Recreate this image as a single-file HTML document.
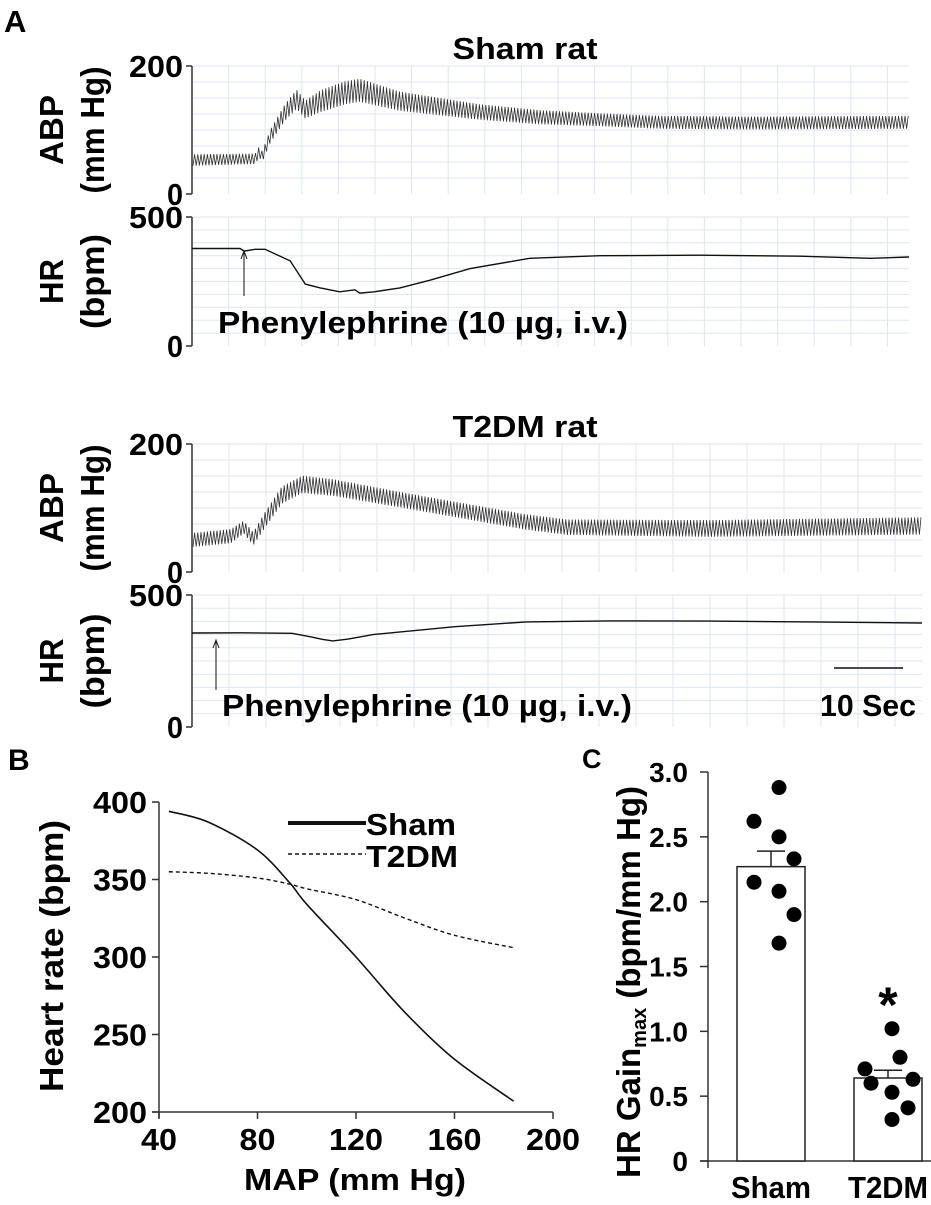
<!DOCTYPE html>
<html><head><meta charset="utf-8"><style>
html,body{margin:0;padding:0;background:#fff;}
svg{display:block;font-family:"Liberation Sans",Arial,sans-serif;}
.b{font-weight:bold;}
</style></head><body>
<svg id="fig" width="931" height="1205" viewBox="0 0 931 1205" xmlns="http://www.w3.org/2000/svg">
<g id="gA"></g>
<g id="gB"></g>
<g id="gC"></g>
</svg>
<script>
// ---- Panel A data (time in arbitrary units 0..100) ----
const shamAbpT = [0, 8.8, 9.4, 9.8, 10.9, 13, 14.6, 15.8, 17.9, 21.3, 23.4, 29, 40.2, 48.5, 56.9, 65.3, 77.8, 100];
const shamAbpMean = [53, 55, 66, 58, 90, 128, 148, 132, 145, 158, 162, 145, 128, 120, 116, 112, 111, 112];
const shamAbpAmp = [18, 16, 18, 16, 20, 26, 30, 28, 34, 36, 36, 30, 24, 22, 20, 20, 20, 20];
const shamHrT = [0, 6.7, 7.3, 8.8, 10.2, 13.7, 15.8, 17.9, 20.6, 22.7, 23.4, 25.4, 29, 33.2, 38.8, 47.1, 56.9, 70.8, 84.8, 94.6, 100];
const shamHr = [378, 378, 368, 375, 375, 330, 240, 225, 210, 218, 205, 210, 225, 255, 300, 340, 350, 352, 348, 340, 345];
const t2AbpT = [0, 5.3, 7.1, 8.4, 9.8, 12.3, 15.1, 19.3, 29, 37.4, 45.8, 51.4, 70.9, 100];
const t2AbpMean = [50, 56, 70, 52, 78, 120, 137, 132, 112, 95, 78, 70, 68, 72];
const t2AbpAmp = [22, 22, 20, 20, 24, 27, 27, 26, 24, 24, 24, 24, 26, 27];
const t2HrT = [0, 6.7, 13.7, 16.5, 17.9, 19.3, 21.4, 24.8, 36, 45.8, 57, 70.9, 84.8, 100];
const t2Hr = [356, 357, 355, 340, 332, 326, 333, 350, 380, 398, 402, 401, 398, 394];
const abpTicks = [0, 200];
const hrTicks = [0, 500];

// ---- Panel B data ----
const mapVals = [44, 60, 80, 93, 100, 120, 140, 160, 184];
const shamCurve = [394, 387, 369, 348, 334, 300, 264, 234, 207];
const t2Curve = [355, 354, 351, 347, 344, 337, 325, 314, 306];
const bXTicks = [40, 80, 120, 160, 200];
const bYTicks = [200, 250, 300, 350, 400];

// ---- Panel C data ----
const groups = ["Sham", "T2DM"];
const means = [2.27, 0.64];
const sems = [0.12, 0.06];
const shamDots = [2.88, 2.62, 2.50, 2.33, 2.15, 2.08, 1.90, 1.68];
const t2Dots = [1.02, 0.80, 0.71, 0.60, 0.63, 0.53, 0.41, 0.32];
const cTicks = ["0", "0.5", "1.0", "1.5", "2.0", "2.5", "3.0"];

const NS = "http://www.w3.org/2000/svg";
function el(parent, tag, attrs, text) {
  const e = document.createElementNS(NS, tag);
  for (const k in attrs) e.setAttribute(k, attrs[k]);
  if (text !== undefined) e.textContent = text;
  parent.appendChild(e);
  return e;
}
function interp(ts, vs, t) {
  if (t <= ts[0]) return vs[0];
  for (let i = 1; i < ts.length; i++) {
    if (t <= ts[i]) { const f = (t - ts[i-1]) / (ts[i] - ts[i-1]); return vs[i-1] + f * (vs[i] - vs[i-1]); }
  }
  return vs[vs.length - 1];
}

// ---------- Panel A ----------
const gA = document.getElementById('gA');
const t0 = el(gA, 'text', {x: 4, y: 32, 'font-size': 31, class: 'b'}, 'A');



function tracePanel(g, cfg) {
  const x0 = 192, x1 = cfg.right;
  const tx = t => x0 + t / 100 * (x1 - x0);
  const ti = el(g, 'text', {x: 525, y: cfg.titleY, 'font-size': 31, class: 'b', 'text-anchor': 'middle', textLength: cfg.titleW, lengthAdjust: 'spacingAndGlyphs'}, cfg.title);
  
  
  const subs = [
    {top: cfg.abpTop, bot: cfg.abpBot, max: 200, ticks: abpTicks, nh: 8, l1: 'ABP', l2: '(mm Hg)', w1: 70, w2: 127, name: 'abp'},
    {top: cfg.hrTop, bot: cfg.hrBot, max: 500, ticks: hrTicks, nh: 10, l1: 'HR', l2: '(bpm)', w1: 45, w2: 95, name: 'hr'}
  ];
  subs.forEach(s => {
    const sy = v => s.bot - v / s.max * (s.bot - s.top);
    const grid = el(g, 'g', {stroke: '#dce6f2', 'stroke-width': 1});
    
    
    for (let i = 1; i <= s.nh; i++) { const y = s.bot - i * (s.bot - s.top) / s.nh; el(grid, 'line', {x1: x0, x2: x1, y1: y, y2: y}); }
    for (let x = x0 + cfg.gridDx; x <= x1; x += cfg.gridDx) el(grid, 'line', {x1: x, x2: x, y1: s.top, y2: s.bot});
    const ax = el(g, 'line', {x1: x0, x2: x0, y1: s.top, y2: s.bot, stroke: '#333', 'stroke-width': 1.5});
    
    
    s.ticks.forEach(v => {
      el(g, 'line', {x1: x0 - 6, x2: x0, y1: sy(v), y2: sy(v), stroke: '#333', 'stroke-width': 1.5});
      const tl = el(g, 'text', {x: x0 - 9, y: sy(v) + 11, 'font-size': 31, class: 'b', 'text-anchor': 'end', textLength: v === 0 ? 16 : 54, lengthAdjust: 'spacingAndGlyphs'}, String(v));
      
      
    });
    const cy = (s.top + s.bot) / 2;
    const a1 = el(g, 'text', {x: 0, y: 0, 'font-size': 33, class: 'b', 'text-anchor': 'middle', textLength: s.w1, lengthAdjust: 'spacingAndGlyphs', transform: `translate(63,${cy}) rotate(-90)`}, s.l1);
    
    
    const a2 = el(g, 'text', {x: 0, y: 0, 'font-size': 33, class: 'b', 'text-anchor': 'middle', textLength: s.w2, lengthAdjust: 'spacingAndGlyphs', transform: `translate(104,${cy}) rotate(-90)`}, s.l2);
    
    
    s.sy = sy;
  });
  const sA = subs[0];
  let d = '';
  let k = 0;
  for (let x = x0 + 1; x <= x1; x += 1.6, k++) {
    const t = (x - x0) / (x1 - x0) * 100;
    const m = interp(cfg.abpT, cfg.abpMean, t), a = interp(cfg.abpT, cfg.abpAmp, t);
    const v = m + (k % 2 ? a / 2 : -a / 2);
    d += (k ? 'L' : 'M') + x.toFixed(1) + ' ' + sA.sy(v).toFixed(1);
  }
  const p = el(g, 'path', {d: d, fill: 'none', stroke: '#333', 'stroke-width': 0.8});
  
  
  const sH = subs[1];
  let dh = '';
  cfg.hrT.forEach((t, i) => { dh += (i ? 'L' : 'M') + tx(t).toFixed(1) + ' ' + sH.sy(cfg.hr[i]).toFixed(1); });
  const ph = el(g, 'path', {d: dh, fill: 'none', stroke: '#111', 'stroke-width': 1.4});
  
  
  const ar = el(g, 'g', {});
  
  
  el(ar, 'line', {x1: cfg.arrX, x2: cfg.arrX, y1: cfg.arrY2, y2: cfg.arrY1 + 2, stroke: '#111', 'stroke-width': 1});
  el(ar, 'path', {d: `M${cfg.arrX-3} ${cfg.arrY1+8}L${cfg.arrX} ${cfg.arrY1}L${cfg.arrX+3} ${cfg.arrY1+8}`, fill: 'none', stroke: '#111', 'stroke-width': 1});
  const lb = el(g, 'text', {x: cfg.lblX, y: cfg.lblY, 'font-size': 31, class: 'b', textLength: 410, lengthAdjust: 'spacingAndGlyphs'}, 'Phenylephrine (10 µg, i.v.)');
  
  
}
const gS = el(gA, 'g', {});


tracePanel(gS, {title: 'Sham rat', titleY: 59, titleW: 145, right: 909, gridDx: 36.6,
  abpTop: 66, abpBot: 194, hrTop: 217, hrBot: 346,
  abpT: shamAbpT, abpMean: shamAbpMean, abpAmp: shamAbpAmp, hrT: shamHrT, hr: shamHr,
  arrX: 244, arrY1: 251, arrY2: 296, lblX: 218, lblY: 333});
const gT = el(gA, 'g', {});


tracePanel(gT, {title: 'T2DM rat', titleY: 437, titleW: 145, right: 922, gridDx: 37,
  abpTop: 444, abpBot: 572, hrTop: 595, hrBot: 727,
  abpT: t2AbpT, abpMean: t2AbpMean, abpAmp: t2AbpAmp, hrT: t2HrT, hr: t2Hr,
  arrX: 216, arrY1: 640, arrY2: 690, lblX: 222, lblY: 716});
const sb = el(gA, 'line', {x1: 834, x2: 903, y1: 668, y2: 668, stroke: '#111', 'stroke-width': 1.5});


const sbl = el(gA, 'text', {x: 916, y: 716, 'font-size': 31, class: 'b', 'text-anchor': 'end', textLength: 96, lengthAdjust: 'spacingAndGlyphs'}, '10 Sec');



// ---------- Panel B ----------
const gB = document.getElementById('gB');
const bx = v => 159 + (v - 40) / 160 * (553 - 159);
const by = v => 1112 - (v - 200) / 200 * (1112 - 802);
const bl = el(gB, 'text', {x: 8, y: 770, 'font-size': 30, class: 'b'}, 'B');


const bxa = el(gB, 'line', {x1: 152, x2: 553, y1: 1112, y2: 1112, stroke: '#333', 'stroke-width': 1.5});


const bya = el(gB, 'line', {x1: 159, x2: 159, y1: 802, y2: 1118, stroke: '#333', 'stroke-width': 1.5});


bXTicks.forEach(v => {
  el(gB, 'line', {x1: bx(v), x2: bx(v), y1: 1112, y2: 1119, stroke: '#333', 'stroke-width': 1.5});
  const t = el(gB, 'text', {x: bx(v), y: 1150, 'font-size': 31, class: 'b', 'text-anchor': 'middle', textLength: String(v).length * 18, lengthAdjust: 'spacingAndGlyphs'}, String(v));
  
  
});
bYTicks.forEach(v => {
  el(gB, 'line', {x1: 152, x2: 159, y1: by(v), y2: by(v), stroke: '#333', 'stroke-width': 1.5});
  const t = el(gB, 'text', {x: 147, y: by(v) + 11, 'font-size': 31, class: 'b', 'text-anchor': 'end', textLength: 54, lengthAdjust: 'spacingAndGlyphs'}, String(v));
  
  
});
const bxt = el(gB, 'text', {x: 355, y: 1190, 'font-size': 31, class: 'b', 'text-anchor': 'middle', textLength: 222, lengthAdjust: 'spacingAndGlyphs'}, 'MAP (mm Hg)');


const byt = el(gB, 'text', {x: 0, y: 0, 'font-size': 33, class: 'b', 'text-anchor': 'middle', textLength: 272, lengthAdjust: 'spacingAndGlyphs', transform: 'translate(63,956) rotate(-90)'}, 'Heart rate (bpm)');


function smoothPath(xs, ys) {
  const pts = xs.map((x, i) => [bx(x), by(ys[i])]);
  let d = 'M' + pts[0][0] + ' ' + pts[0][1];
  for (let i = 0; i < pts.length - 1; i++) {
    const p0 = pts[Math.max(0, i-1)], p1 = pts[i], p2 = pts[i+1], p3 = pts[Math.min(pts.length-1, i+2)];
    const c1 = [p1[0] + (p2[0]-p0[0])/6, p1[1] + (p2[1]-p0[1])/6];
    const c2 = [p2[0] - (p3[0]-p1[0])/6, p2[1] - (p3[1]-p1[1])/6];
    d += `C${c1[0].toFixed(1)} ${c1[1].toFixed(1)} ${c2[0].toFixed(1)} ${c2[1].toFixed(1)} ${p2[0].toFixed(1)} ${p2[1].toFixed(1)}`;
  }
  return d;
}
const cs = el(gB, 'path', {d: smoothPath(mapVals, shamCurve), fill: 'none', stroke: '#111', 'stroke-width': 1.6});


const ct = el(gB, 'path', {d: smoothPath(mapVals, t2Curve), fill: 'none', stroke: '#111', 'stroke-width': 1.4, 'stroke-dasharray': '4 3'});


const lg = el(gB, 'g', {});


el(lg, 'line', {x1: 288, x2: 366, y1: 823, y2: 823, stroke: '#111', 'stroke-width': 4});
el(lg, 'text', {x: 366, y: 835, 'font-size': 31, class: 'b', textLength: 90, lengthAdjust: 'spacingAndGlyphs'}, 'Sham');
el(lg, 'line', {x1: 288, x2: 366, y1: 854, y2: 854, stroke: '#111', 'stroke-width': 1.4, 'stroke-dasharray': '4 3'});
el(lg, 'text', {x: 366, y: 867, 'font-size': 31, class: 'b', textLength: 92, lengthAdjust: 'spacingAndGlyphs'}, 'T2DM');

// ---------- Panel C ----------
const gC = document.getElementById('gC');
const cy = v => 1161 - v / 3 * (1161 - 772);
const cl = el(gC, 'text', {x: 582, y: 768, 'font-size': 27, class: 'b'}, 'C');


const cya = el(gC, 'line', {x1: 708, x2: 708, y1: 772, y2: 1168, stroke: '#333', 'stroke-width': 1.5});


const cxa = el(gC, 'line', {x1: 700, x2: 931, y1: 1161, y2: 1161, stroke: '#333', 'stroke-width': 1.5});


cTicks.forEach(s => {
  const v = parseFloat(s);
  el(gC, 'line', {x1: 700, x2: 708, y1: cy(v), y2: cy(v), stroke: '#333', 'stroke-width': 1.5});
  const t = el(gC, 'text', {x: 688, y: cy(v) + 10, 'font-size': 28, class: 'b', 'text-anchor': 'end'}, s);
  
  
});
const cyt = el(gC, 'text', {x: 0, y: 0, 'font-size': 33, class: 'b', 'text-anchor': 'middle', transform: 'translate(640,982) rotate(-90)'});


el(cyt, 'tspan', {}, 'HR Gain');
el(cyt, 'tspan', {'font-size': 20, dy: 6}, 'max');
el(cyt, 'tspan', {dy: -6}, ' (bpm/mm Hg)');
const centers = [771, 888];
const dotSets = [shamDots, t2Dots];
const offs = [8, -17, 8, 23, -17, 8, 23, 8];
const offs2 = [4, 12, -23, -17, 25, 4, 20, 4];
groups.forEach((gname, i) => {
  const cx = centers[i];
  const bar = el(gC, 'rect', {x: cx - 34, y: cy(means[i]), width: 68, height: 1161 - cy(means[i]), fill: '#fff', stroke: '#222', 'stroke-width': 1.5});
  
  
  const eb = el(gC, 'path', {d: `M${cx} ${cy(means[i])}V${cy(means[i]+sems[i])}M${cx-14} ${cy(means[i]+sems[i])}H${cx+14}`, stroke: '#222', 'stroke-width': 1.5, fill: 'none'});
  
  
  dotSets[i].forEach((v, j) => {
    const c = el(gC, 'circle', {cx: cx + (i ? offs2[j] : offs[j]), cy: cy(v), r: 7.5, fill: '#000'});
    
    
  });
  const t = el(gC, 'text', {x: cx, y: 1198, 'font-size': 31, class: 'b', 'text-anchor': 'middle', textLength: 80, lengthAdjust: 'spacingAndGlyphs'}, gname);
  
  
});
const ast = el(gC, 'text', {x: 888, y: 1022, 'font-size': 50, class: 'b', 'text-anchor': 'middle'}, '*');


</script>
</body></html>
